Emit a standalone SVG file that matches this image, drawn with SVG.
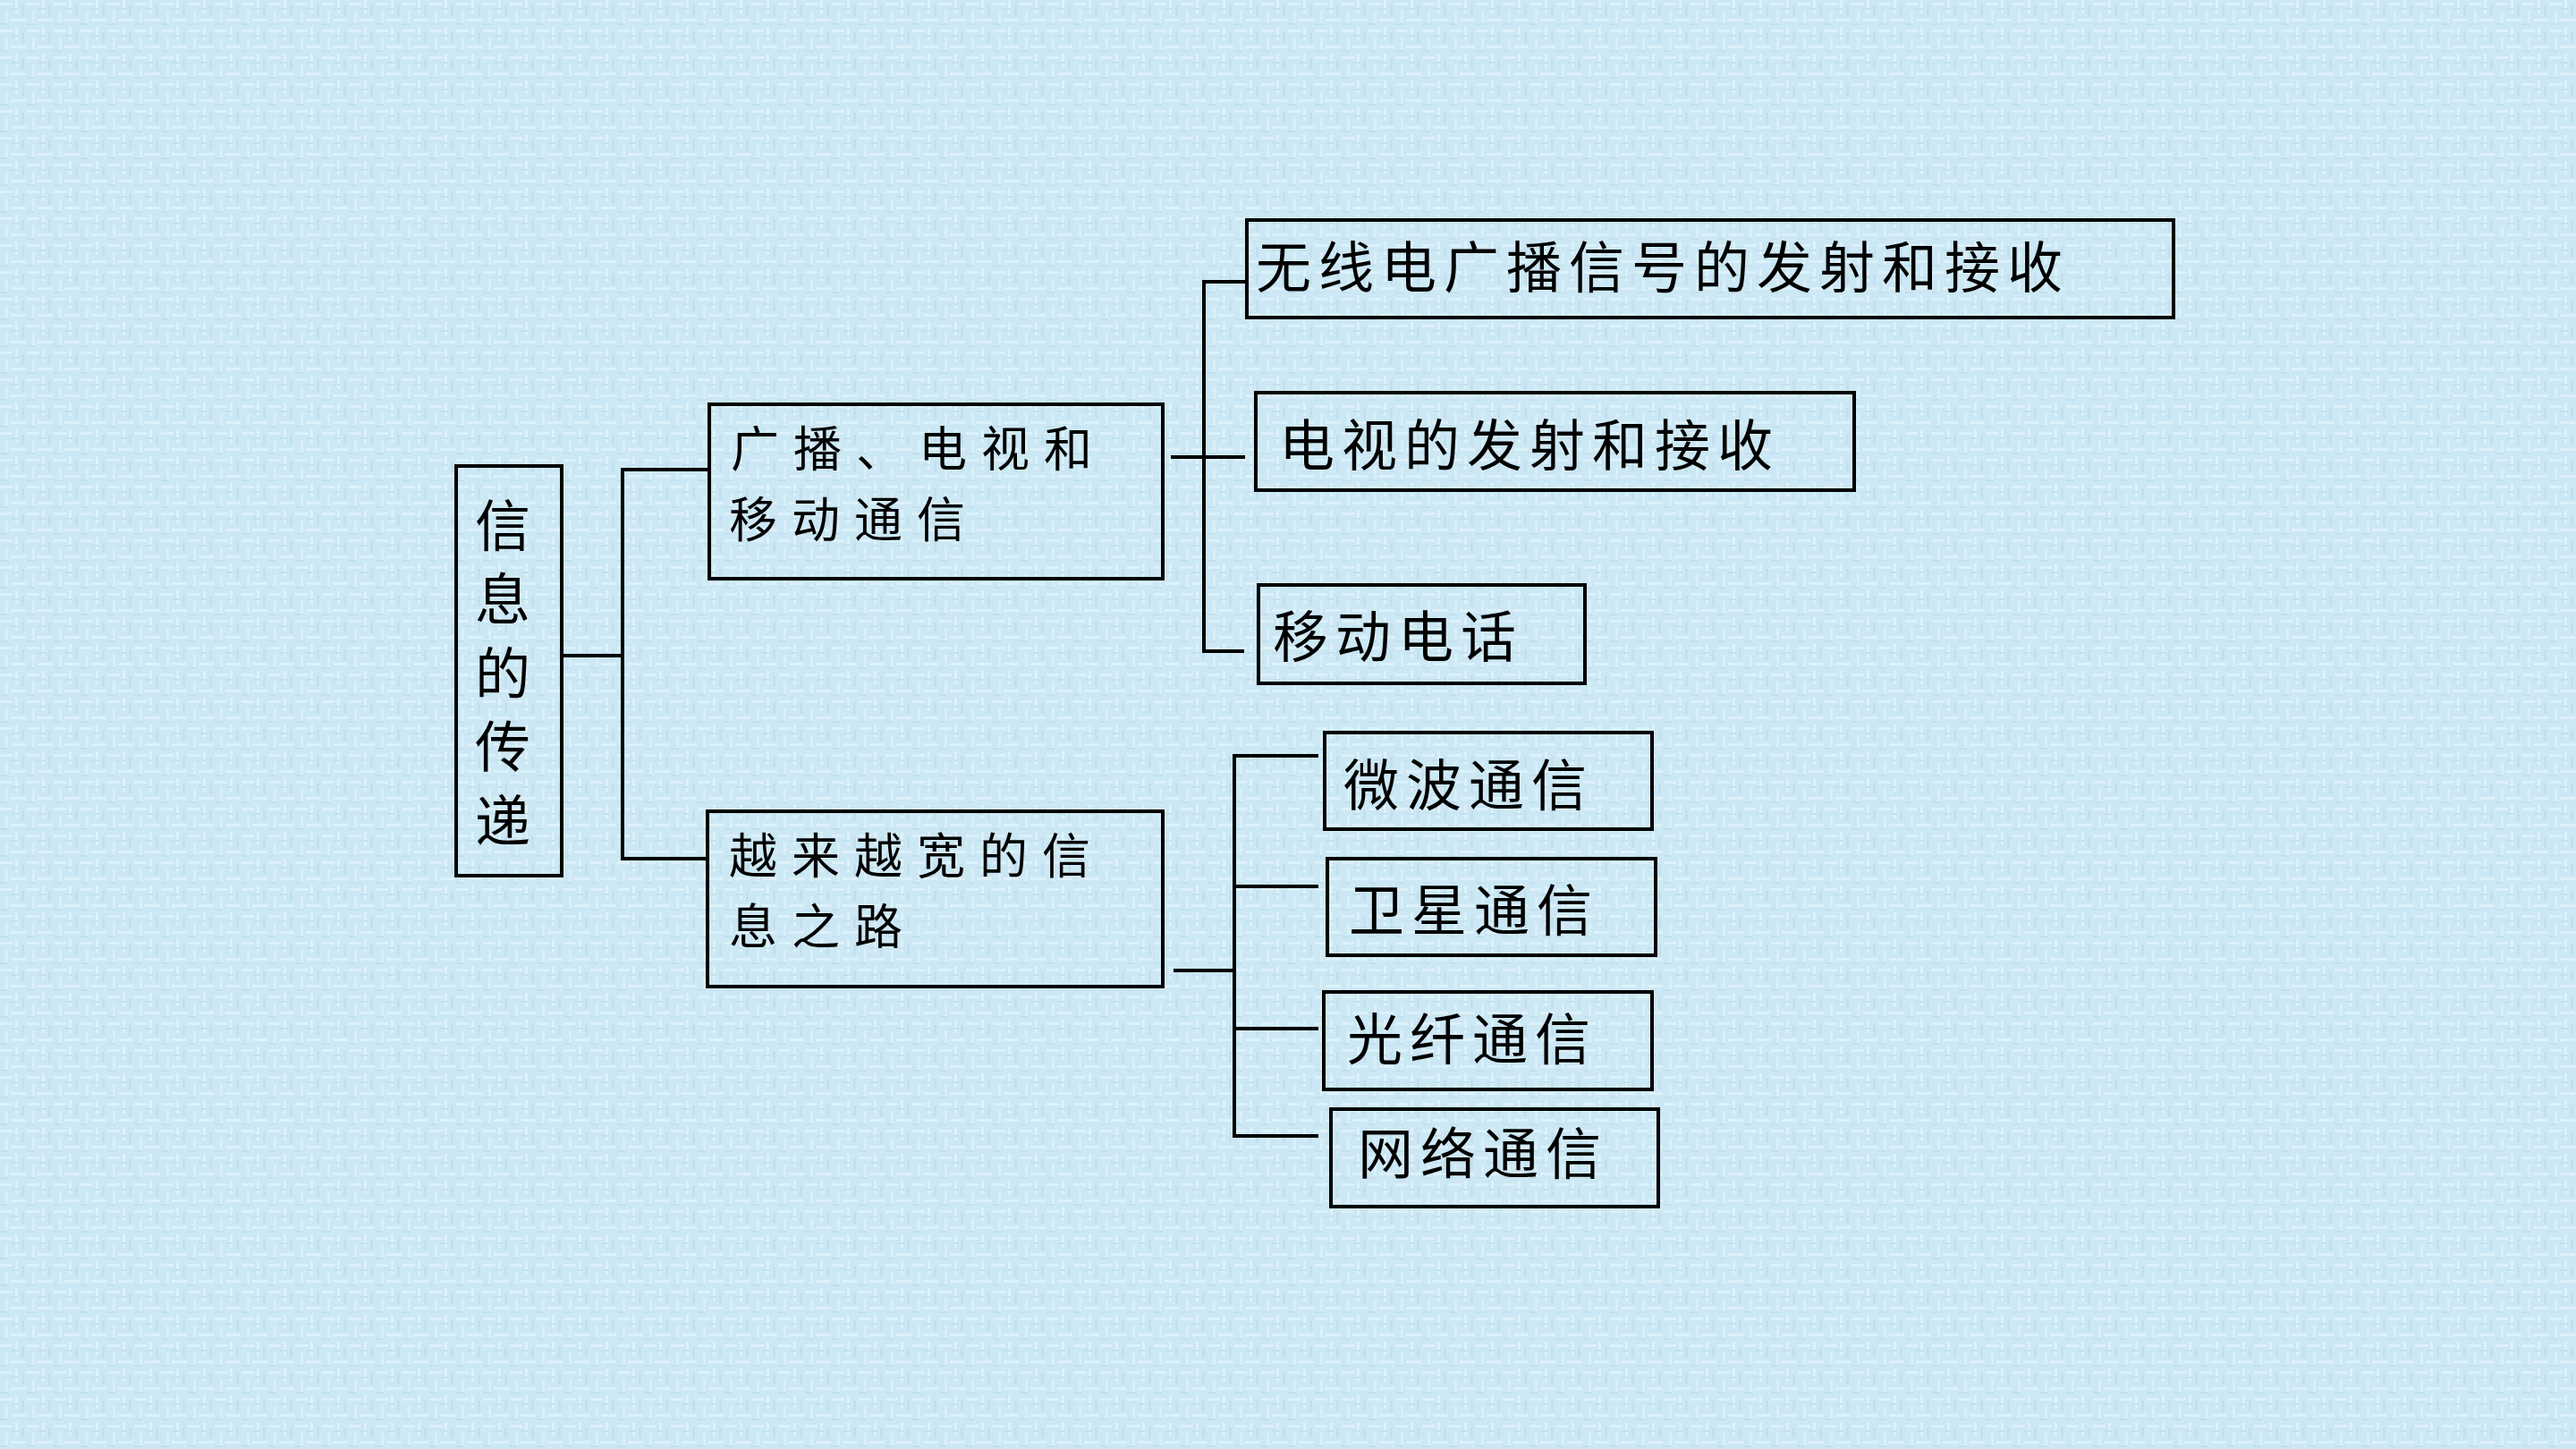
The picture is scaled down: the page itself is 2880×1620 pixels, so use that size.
<svg xmlns="http://www.w3.org/2000/svg" width="2880" height="1620" viewBox="0 0 2880 1620">
<defs>
<style>
.box{fill:none;stroke:#000;stroke-width:4}
.ln{fill:none;stroke:#000;stroke-width:4;stroke-linecap:square}
.t{font-family:"Noto Sans CJK SC","Noto Sans CJK TC",sans-serif;font-size:62px;letter-spacing:8px;fill:#000}
.t2{font-family:"Noto Sans CJK SC","Noto Sans CJK TC",sans-serif;font-size:54px;letter-spacing:16px;fill:#000}
</style>
<pattern id="tex" width="30" height="30" patternUnits="userSpaceOnUse">
<rect width="30" height="30" fill="#cce8f4"/>
<rect x="0" y="3" width="14" height="3" fill="#dcf1fa"/>
<rect x="17" y="0" width="3" height="15" fill="#dcf1fa"/>
<rect x="6" y="12" width="3" height="16" fill="#d9eff9"/>
<rect x="12" y="21" width="17" height="3" fill="#dcf1fa"/>
<rect x="24" y="6" width="3" height="12" fill="#c2e0ee"/>
<rect x="0" y="26" width="9" height="2" fill="#c2e0ee"/>
<rect x="12" y="9" width="9" height="2" fill="#c4e1ef"/>
</pattern>
</defs>
<rect width="2880" height="1620" fill="url(#tex)"/>
<g id="connectors">
<path class="ln" d="M628,733 H696 M696,525 V960 M696,525 H792 M696,960 H791"/>
<path class="ln" d="M1311,511 H1390 M1346,315 V728 M1346,315 H1394 M1346,728 H1389"/>
<path class="ln" d="M1314,1085 H1380 M1380,845 V1270 M1380,845 H1472 M1380,991 H1472 M1380,1150 H1472 M1380,1270 H1472"/>
</g>
<g id="root">
<rect class="box" x="510" y="521" width="118" height="458"/>
<text class="t" x="566" y="611" text-anchor="middle" letter-spacing="0">信</text>
<text class="t" x="566" y="693" text-anchor="middle" letter-spacing="0">息</text>
<text class="t" x="566" y="776" text-anchor="middle" letter-spacing="0">的</text>
<text class="t" x="566" y="858" text-anchor="middle" letter-spacing="0">传</text>
<text class="t" x="566" y="941" text-anchor="middle" letter-spacing="0">递</text>
</g>
<g id="nodeA">
<rect class="box" x="793" y="452" width="507" height="195"/>
<text class="t2" x="817" y="522">广播、电视和</text>
<text class="t2" x="815" y="601">移动通信</text>
</g>
<g id="nodeB">
<rect class="box" x="791" y="907" width="509" height="196"/>
<text class="t2" x="815" y="977">越来越宽的信</text>
<text class="t2" x="815" y="1056">息之路</text>
</g>
<g id="node1">
<rect class="box" x="1394" y="246" width="1036" height="109"/>
<text class="t" x="1404" y="322">无线电广播信号的发射和接收</text>
</g>
<g id="node2">
<rect class="box" x="1404" y="439" width="669" height="109"/>
<text class="t" x="1430" y="521">电视的发射和接收</text>
</g>
<g id="node3">
<rect class="box" x="1407" y="654" width="365" height="110"/>
<text class="t" x="1423" y="735">移动电话</text>
</g>
<g id="node4">
<rect class="box" x="1481" y="819" width="366" height="108"/>
<text class="t" x="1502" y="901">微波通信</text>
</g>
<g id="node5">
<rect class="box" x="1484" y="960" width="367" height="108"/>
<text class="t" x="1508" y="1041">卫星通信</text>
</g>
<g id="node6">
<rect class="box" x="1480" y="1109" width="367" height="109"/>
<text class="t" x="1506" y="1185">光纤通信</text>
</g>
<g id="node7">
<rect class="box" x="1488" y="1240" width="366" height="109"/>
<text class="t" x="1518" y="1313">网络通信</text>
</g>
</svg>
